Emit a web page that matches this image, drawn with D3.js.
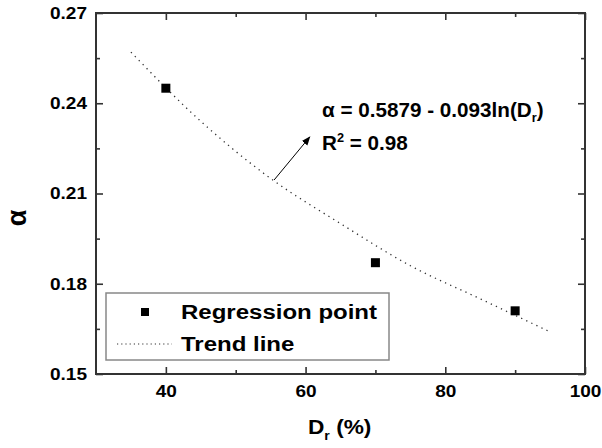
<!DOCTYPE html>
<html>
<head>
<meta charset="utf-8">
<script src="https://unpkg.com/d3@7/dist/d3.min.js"></script>
<style>
  body { margin: 0; background: #fff; }
  text { font-family: "Liberation Sans", Arial, sans-serif; font-weight: bold; fill: #000; }
</style>
</head>
<body>
<div id="chart"></div>
<script>
const xTicks = [40, 60, 80, 100];
const xMinor = [50, 70, 90];
const yTicks = [0.15, 0.18, 0.21, 0.24, 0.27];
const yMinor = [0.165, 0.195, 0.225, 0.255];

// regression points
const drValues = [40, 70, 90];
const alphaValues = [0.245, 0.187, 0.171];

// trend line
const trendDr = [35, 45, 55, 65, 75, 85, 95];
const trendAlpha = [0.257, 0.234, 0.215, 0.200, 0.186, 0.175, 0.164];

const margin = {top: 13, right: 17, bottom: 74, left: 96};
const width = 602 - margin.left - margin.right;
const height = 448 - margin.top - margin.bottom;

const svg = d3.select("#chart")
  .append("svg")
  .attr("width", 602)
  .attr("height", 448);

// the original lettering is a bit wider than Liberation Sans
function widen(sel, k) {
  sel.each(function() {
    const w = this.getComputedTextLength();
    d3.select(this)
      .attr("textLength", w * k)
      .attr("lengthAdjust", "spacingAndGlyphs");
  });
}

const defs = svg.append("defs");
defs.append("marker")
  .attr("id", "arrow")
  .attr("viewBox", "0 0 10 10")
  .attr("refX", 9)
  .attr("refY", 5)
  .attr("markerWidth", 9)
  .attr("markerHeight", 9)
  .attr("markerUnits", "userSpaceOnUse")
  .attr("orient", "auto")
  .append("path")
  .attr("d", "M0,1 L10,5 L0,9 Z")
  .attr("fill", "#000");

const g = svg.append("g")
  .attr("transform", `translate(${margin.left}, ${margin.top})`);

const x = d3.scaleLinear().domain([30, 100]).range([0, width]);
const y = d3.scaleLinear().domain([0.15, 0.27]).range([height, 0]);

function styleAxis(sel) {
  sel.select(".domain").remove();
  sel.selectAll("line").attr("stroke", "#333").attr("stroke-width", 1.6);
  sel.selectAll("text").style("font-size", "17px").attr("fill", "#000").call(widen, 1.12);
}

// bottom
g.append("g")
  .attr("transform", `translate(0, ${height})`)
  .call(d3.axisBottom(x).tickValues(xTicks).tickSize(-7).tickPadding(11).tickFormat(d3.format("d")))
  .call(styleAxis);
g.append("g")
  .attr("transform", `translate(0, ${height})`)
  .call(d3.axisBottom(x).tickValues(xMinor).tickSize(-4).tickFormat(""))
  .call(styleAxis);
// top
g.append("g")
  .call(d3.axisTop(x).tickValues(xTicks).tickSize(-7).tickFormat(""))
  .call(styleAxis);
g.append("g")
  .call(d3.axisTop(x).tickValues(xMinor).tickSize(-4).tickFormat(""))
  .call(styleAxis);
// left
g.append("g")
  .call(d3.axisLeft(y).tickValues(yTicks).tickSize(-7).tickPadding(9).tickFormat(d3.format(".2f")))
  .call(styleAxis);
g.append("g")
  .call(d3.axisLeft(y).tickValues(yMinor).tickSize(-4).tickFormat(""))
  .call(styleAxis);
// right
g.append("g")
  .attr("transform", `translate(${width}, 0)`)
  .call(d3.axisRight(y).tickValues(yTicks).tickSize(-7).tickFormat(""))
  .call(styleAxis);
g.append("g")
  .attr("transform", `translate(${width}, 0)`)
  .call(d3.axisRight(y).tickValues(yMinor).tickSize(-4).tickFormat(""))
  .call(styleAxis);

// frame
g.append("rect")
  .attr("width", width)
  .attr("height", height)
  .attr("fill", "none")
  .attr("stroke", "#333")
  .attr("stroke-width", 2);

// trend line
const line = d3.line()
  .x((d, i) => x(trendDr[i]))
  .y(d => y(d))
  .curve(d3.curveMonotoneX);

g.append("path")
  .datum(trendAlpha)
  .attr("d", line)
  .attr("fill", "none")
  .attr("stroke", "#333")
  .attr("stroke-width", 1.3)
  .attr("stroke-dasharray", "1.3,4.3");

// points
g.selectAll(".pt")
  .data(drValues)
  .join("rect")
  .attr("class", "pt")
  .attr("x", d => x(d) - 4.5)
  .attr("y", (d, i) => y(alphaValues[i]) - 4.5)
  .attr("width", 9)
  .attr("height", 9)
  .attr("fill", "#000");

// annotation arrow
g.append("line")
  .attr("x1", x(55.5))
  .attr("y1", y(0.2145))
  .attr("x2", x(60.6))
  .attr("y2", y(0.2288))
  .attr("stroke", "#000")
  .attr("stroke-width", 1)
  .attr("marker-end", "url(#arrow)");

const eq = svg.append("text")
  .attr("x", 322)
  .attr("y", 117)
  .style("font-size", "19.5px");
eq.append("tspan").text("α = 0.5879 - 0.093ln(D");
eq.append("tspan").attr("dy", 5).style("font-size", "12px").text("r");
eq.append("tspan").attr("dy", -5).text(")");
eq.call(widen, 1.06);

const r2 = svg.append("text")
  .attr("x", 322)
  .attr("y", 150)
  .style("font-size", "19.5px");
r2.append("tspan").text("R");
r2.append("tspan").attr("dy", -8).style("font-size", "12px").text("2");
r2.append("tspan").attr("dy", 8).text(" = 0.98");
r2.call(widen, 1.06);

// legend
svg.append("rect")
  .attr("x", 106)
  .attr("y", 293)
  .attr("width", 283)
  .attr("height", 67)
  .attr("fill", "#fff")
  .attr("stroke", "#888")
  .attr("stroke-width", 1.5);

svg.append("rect")
  .attr("x", 141)
  .attr("y", 308)
  .attr("width", 8)
  .attr("height", 8)
  .attr("fill", "#000");
svg.append("text")
  .attr("x", 181)
  .attr("y", 319)
  .style("font-size", "20px")
  .text("Regression point")
  .call(widen, 1.2);

svg.append("line")
  .attr("x1", 117)
  .attr("x2", 172)
  .attr("y1", 344)
  .attr("y2", 344)
  .attr("stroke", "#333")
  .attr("stroke-width", 1.2)
  .attr("stroke-dasharray", "1.2,3");
svg.append("text")
  .attr("x", 181)
  .attr("y", 351)
  .style("font-size", "20px")
  .text("Trend line")
  .call(widen, 1.2);

// axis titles
const xt = svg.append("text")
  .attr("x", 308)
  .attr("y", 434)
  .style("font-size", "21px");
xt.append("tspan").text("D");
xt.append("tspan").attr("dy", 6).style("font-size", "13px").text("r");
xt.append("tspan").attr("dy", -6).text(" (%)");
xt.call(widen, 1.08);

svg.append("text")
  .attr("transform", "translate(26, 218) rotate(-90)")
  .attr("text-anchor", "middle")
  .style("font-size", "27px")
  .text("α");
</script>
</body>
</html>
